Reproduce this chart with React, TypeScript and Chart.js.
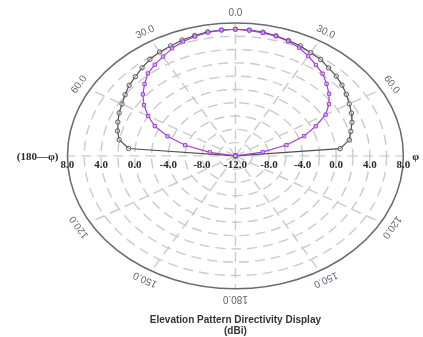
import { useEffect, useRef } from 'react';
import { Chart, registerables } from 'chart.js';

Chart.register(...registerables);

// Elevation angle (deg, 0 = zenith, positive = φ side, negative = 180−φ side)
const angles = [
  -90, -85, -80, -75, -70, -65, -60, -55, -50, -45, -40, -35, -30, -25, -20, -15, -10, -5,
  0, 5, 10, 15, 20, 25, 30, 35, 40, 45, 50, 55, 60, 65, 70, 75, 80, 85, 90,
];

// Directivity (dBi)
const blackDbi = [
  -12, 0.76, 2.06, 2.55, 2.9, 3.28, 3.6, 4.04, 4.52, 4.85, 5.3, 5.75, 6.05, 6.25, 6.55, 6.75, 6.95, 7.0,
  7.05, 7.0, 6.9, 6.7, 6.47, 6.26, 5.93, 5.7, 5.27, 4.98, 4.57, 4.13, 3.66, 3.24, 2.77, 2.23, 1.76, 0.52, -12,
];
const purpleDbi = [
  -12, -12, -8.9, -5.8, -3.4, -1.4, 0.0, 1.3, 2.4, 3.3, 4.2, 4.75, 5.25, 5.85, 6.3, 6.6, 6.85, 7.0,
  7.05, 6.95, 6.8, 6.65, 6.35, 5.95, 5.35, 4.7, 4.15, 3.35, 2.55, 1.6, 0.4, -1.45, -3.3, -5.7, -8.7, -12, -12,
];

const rMin = -12;
const rMax = 8;
const gridRings = [-10, -8, -6, -4, -2, 0, 2, 4, 6];
const radialTicks = [-12, -8, -4, 0, 4, 8];
const spokeAngles = [0, 30, 60, 90, 120, 150, 180, 210, 240, 270, 300, 330];
const angleLabels = [0, 30, 60, 120, 150, 180, -30, -60, -120, -150];

const frac = (v: number) => Math.max(0, (v - rMin) / (rMax - rMin));
const toXY = (deg: number, v: number) => {
  const r = frac(v);
  const t = (deg * Math.PI) / 180;
  return { x: r * Math.sin(t), y: r * Math.cos(t) };
};

const polarPlugin = {
  id: 'polarPlugin',
  beforeDatasetsDraw(chart: any) {
    const { ctx, scales } = chart;
    const sx = scales.x;
    const sy = scales.y;
    const cx = sx.getPixelForValue(0);
    const cy = sy.getPixelForValue(0);
    const ax = sx.getPixelForValue(1) - cx;
    const by = cy - sy.getPixelForValue(1);
    ctx.save();
    ctx.strokeStyle = '#cacaca';
    ctx.lineWidth = 1.4;
    ctx.setLineDash([10, 6]);
    gridRings.forEach((v) => {
      const f = frac(v);
      ctx.beginPath();
      ctx.ellipse(cx, cy, ax * f, by * f, 0, 0, Math.PI * 2);
      ctx.stroke();
    });
    spokeAngles.forEach((d) => {
      const t = (d * Math.PI) / 180;
      ctx.beginPath();
      ctx.moveTo(cx, cy);
      ctx.lineTo(cx + ax * Math.sin(t), cy - by * Math.cos(t));
      ctx.stroke();
    });
    ctx.setLineDash([]);
    ctx.strokeStyle = '#6a6a6a';
    ctx.lineWidth = 1.5;
    ctx.beginPath();
    ctx.ellipse(cx, cy, ax, by, 0, 0, Math.PI * 2);
    ctx.stroke();
    ctx.restore();
  },
  afterDatasetsDraw(chart: any) {
    const { ctx, scales } = chart;
    const sx = scales.x;
    const sy = scales.y;
    const cx = sx.getPixelForValue(0);
    const cy = sy.getPixelForValue(0);
    const ax = sx.getPixelForValue(1) - cx;
    const by = cy - sy.getPixelForValue(1);
    ctx.save();
    // radial tick labels on the horizon
    ctx.font = "bold 11px 'Liberation Serif'";
    ctx.fillStyle = '#2a2a2a';
    ctx.textAlign = 'center';
    ctx.textBaseline = 'middle';
    radialTicks.forEach((v) => {
      const f = frac(v);
      const txt = v.toFixed(1);
      if (f === 0) {
        ctx.fillText(txt, cx, cy + 9.5);
      } else {
        ctx.fillText(txt, cx - ax * f, cy + 9.5);
        ctx.fillText(txt, cx + ax * f, cy + 9.5);
      }
    });
    ctx.textAlign = 'right';
    ctx.fillText('(180\u2014\u03C6)', cx - ax - 9, cy + 1.5);
    ctx.textAlign = 'left';
    ctx.fillText('\u03C6', cx + ax + 9, cy + 1.5);

    // angle labels
    ctx.font = "10px 'Liberation Sans'";
    ctx.fillStyle = '#5f6470';
    ctx.textAlign = 'center';
    angleLabels.forEach((d) => {
      const t = (d * Math.PI) / 180;
      const px = cx + ax * 1.075 * Math.sin(t);
      const py = cy - by * 1.075 * Math.cos(t);
      const rot = Math.atan2(by * Math.sin(t), ax * Math.cos(t));
      ctx.save();
      ctx.translate(px, py);
      ctx.rotate(rot);
      ctx.fillText(Math.abs(d).toFixed(1), 0, 0);
      ctx.restore();
    });

    // title
    ctx.font = "bold 10px 'Liberation Sans'";
    ctx.fillStyle = '#333333';
    ctx.textAlign = 'center';
    ctx.fillText('Elevation Pattern Directivity Display', cx, 320);
    ctx.fillText('(dBi)', cx, 331.5);
    ctx.restore();
  },
};

export default function App() {
  const ref = useRef<HTMLCanvasElement | null>(null);
  useEffect(() => {
    if (!ref.current) return;
    const purplePts = angles.map((a, i) => toXY(a, purpleDbi[i]));
    const blackPts = angles.map((a, i) => toXY(a, blackDbi[i]));
    const chart = new Chart(ref.current, {
      type: 'scatter',
      data: {
        datasets: [
          {
            label: 'Purple',
            data: purplePts,
            showLine: true,
            borderColor: '#a33ddd',
            borderWidth: 1.2,
            pointStyle: 'rect',
            pointRadius: 2.3,
            pointBorderColor: '#a33ddd',
            pointBackgroundColor: 'rgba(235,215,250,0.6)',
            pointBorderWidth: 1,
            order: 1,
          } as any,
          {
            label: 'Black',
            data: blackPts,
            showLine: true,
            borderColor: '#505050',
            borderWidth: 1.2,
            pointStyle: 'circle',
            pointRadius: 2.2,
            pointBorderColor: '#555555',
            pointBackgroundColor: 'rgba(255,255,255,0.4)',
            pointBorderWidth: 1,
            order: 2,
          } as any,
        ],
      },
      options: {
        animation: false,
        responsive: false,
        maintainAspectRatio: false,
        events: [],
        layout: { padding: 0 },
        plugins: { legend: { display: false }, tooltip: { enabled: false } },
        scales: {
          x: { type: 'linear', display: false, min: -236 / 172, max: (423 - 236) / 172 },
          y: { type: 'linear', display: false, min: -(337 - 155.5) / 137, max: 155.5 / 137 },
        },
      },
      plugins: [polarPlugin],
    });
    return () => chart.destroy();
  }, []);
  return (
    <div style={{ position: 'fixed', left: 0, top: 0, width: 423, height: 337, background: '#fff' }}>
      <canvas ref={ref} width={423} height={337} style={{ display: 'block' }} />
    </div>
  );
}
